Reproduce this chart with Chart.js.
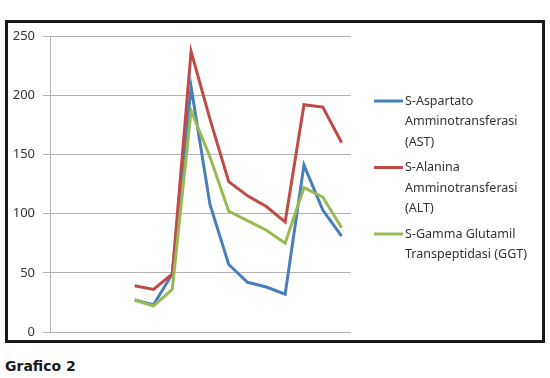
<!DOCTYPE html>
<html>
<head>
<meta charset="utf-8">
<script src="https://cdn.jsdelivr.net/npm/chart.js@4/dist/chart.umd.min.js"></script>
<style>
    body { margin: 0; background: #fff; width: 550px; height: 378px; position: relative; overflow: hidden; }
    #frame { position: absolute; left: 5px; top: 20px; width: 534px; height: 317px; border: 3px solid #1a1a1a; background: #fff; }
    #frame canvas { display: block; }
    #caption { position: absolute; left: 5px; top: 358px; font-family: "DejaVu Sans", sans-serif; font-weight: bold; font-size: 14px; color: #1a1a1a; }
</style>
</head>
<body>
<div id="frame"><canvas id="chart" width="534" height="317"></canvas></div>
<div id="caption">Grafico 2</div>
<script>
// categorie (prelievi) - i primi 4 sono vuoti nel grafico originale
const categories = ['1', '2', '3', '4', '5', '6', '7', '8', '9', '10', '11', '12', '13', '14', '15', '16'];
const astValues = [null, null, null, null, 27, 23, 49, 207, 108, 57, 42, 38, 32, 141, 103, 81];
const altValues = [null, null, null, null, 39, 36, 49, 237, 180, 127, 115, 106, 93, 192, 190, 160];
const ggtValues = [null, null, null, null, 27, 22, 36, 187, 148, 102, 94, 86, 75, 122, 114, 88];
const seriesLabels = [
    ['S-Aspartato', 'Amminotransferasi', '(AST)'],
    ['S-Alanina', 'Amminotransferasi', '(ALT)'],
    ['S-Gamma Glutamil', 'Transpeptidasi (GGT)']
];
const yTicks = [0, 50, 100, 150, 200, 250];

const colors = ['#4a7ebb', '#be4b48', '#98b954'];
const fontFamily = '"Noto Sans", "Open Sans", sans-serif';

// legenda a destra con etichette su più righe
const sideLegend = {
    id: 'sideLegend',
    afterDraw(chart) {
        const ctx = chart.ctx;
        const x0 = chart.chartArea.right + 23;
        let y = 78;
        ctx.save();
        ctx.font = '12.5px ' + fontFamily;
        ctx.textBaseline = 'middle';
        ctx.fillStyle = '#333';
        chart.data.datasets.forEach((ds, i) => {
            ctx.strokeStyle = ds.borderColor;
            ctx.lineWidth = 3;
            ctx.beginPath();
            ctx.moveTo(x0, y);
            ctx.lineTo(x0 + 29, y);
            ctx.stroke();
            seriesLabels[i].forEach((line, j) => {
                ctx.fillText(line, x0 + 31, y + j * 20.5);
            });
            y += seriesLabels[i].length * 20.5 + 5;
        });
        ctx.restore();
    }
};

const ctx = document.getElementById('chart').getContext('2d');
new Chart(ctx, {
    type: 'line',
    data: {
        labels: categories,
        datasets: [
            { label: seriesLabels[0].join(' '), data: astValues, borderColor: colors[0], order: 3 },
            { label: seriesLabels[1].join(' '), data: altValues, borderColor: colors[1], order: 2 },
            { label: seriesLabels[2].join(' '), data: ggtValues, borderColor: colors[2], order: 1 }
        ]
    },
    options: {
        responsive: false,
        animation: false,
        layout: { padding: { top: 13, right: 191, bottom: 8, left: 0 } },
        elements: {
            line: { borderWidth: 3, tension: 0, fill: false },
            point: { radius: 0 }
        },
        plugins: {
            legend: { display: false },
            tooltip: { enabled: false }
        },
        scales: {
            x: { display: false, offset: true },
            y: {
                min: 0,
                max: 250,
                afterBuildTicks(scale) {
                    scale.ticks = yTicks.map(v => ({ value: v }));
                },
                afterFit(scale) {
                    scale.width = 42;
                    scale.paddingTop = 0;
                    scale.paddingBottom = 0;
                },
                grid: { color: '#b3b3b3', lineWidth: 1, tickLength: 7 },
                border: { display: true, color: '#b3b3b3' },
                ticks: { padding: 8, color: '#333', font: { family: fontFamily, size: 13 } }
            }
        }
    },
    plugins: [sideLegend]
});
</script>
</body>
</html>
